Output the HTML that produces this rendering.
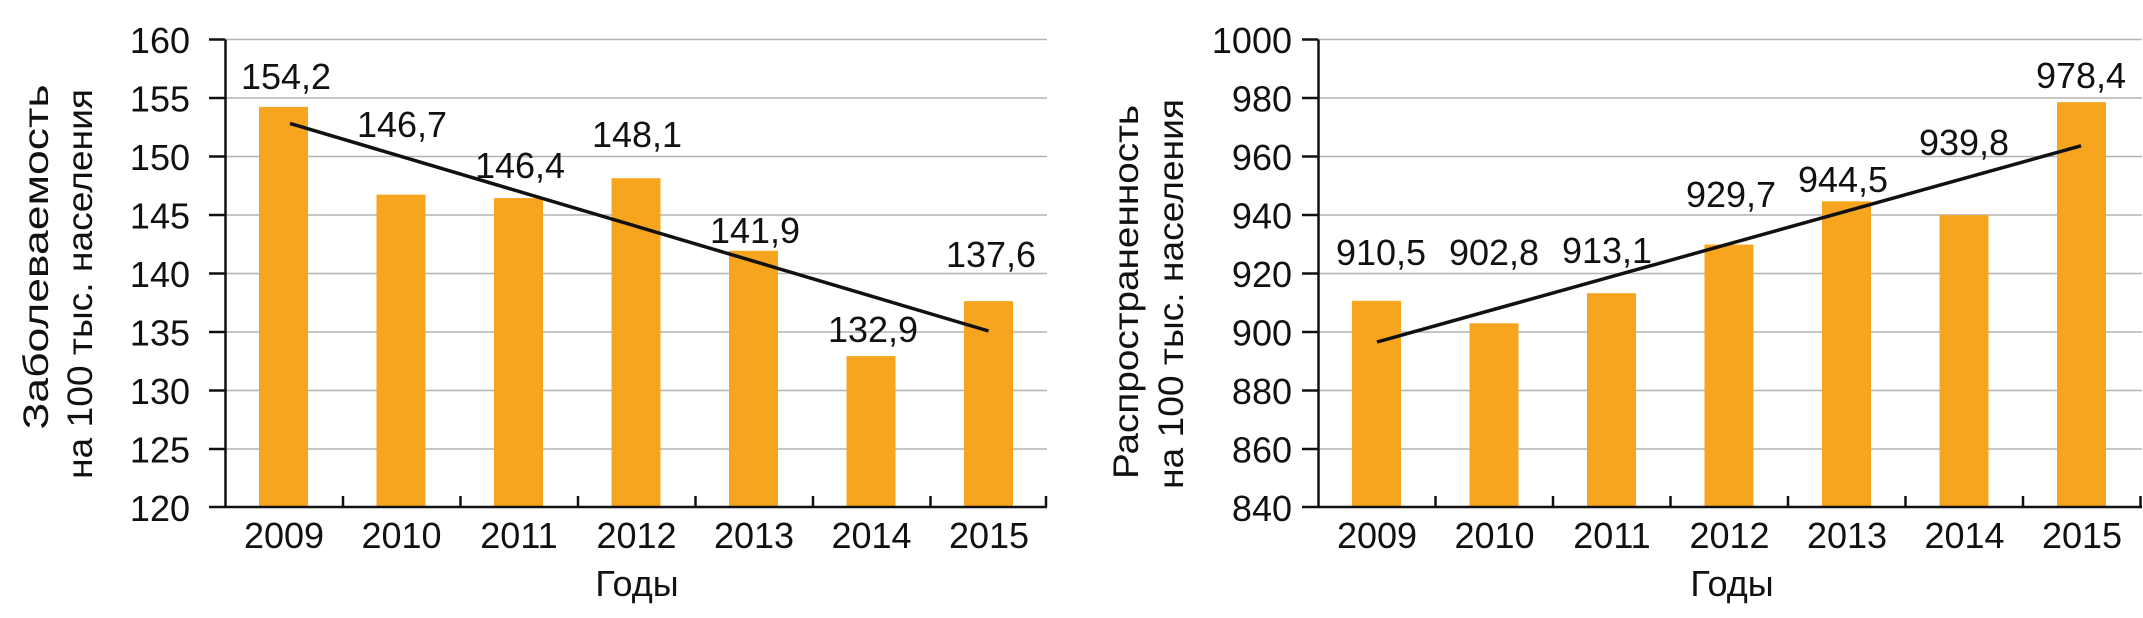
<!DOCTYPE html>
<html><head><meta charset="utf-8"><style>
html,body{margin:0;padding:0;background:#fff;}
svg{display:block;}
text{font-family:"Liberation Sans",sans-serif;fill:#111;}
</style></head><body>
<svg width="2143" height="618" viewBox="0 0 2143 618" xmlns="http://www.w3.org/2000/svg">
<!-- LEFT CHART -->
<g stroke="#b3b3b3" stroke-width="1.5">
<line x1="225" y1="39.5" x2="1047" y2="39.5"/>
<line x1="225" y1="98" x2="1047" y2="98"/>
<line x1="225" y1="156.5" x2="1047" y2="156.5"/>
<line x1="225" y1="215" x2="1047" y2="215"/>
<line x1="225" y1="273.5" x2="1047" y2="273.5"/>
<line x1="225" y1="332" x2="1047" y2="332"/>
<line x1="225" y1="390.5" x2="1047" y2="390.5"/>
<line x1="225" y1="449" x2="1047" y2="449"/>
</g>
<g fill="#F7A51E">
<rect x="259" y="106.9" width="49" height="400.1"/>
<rect x="376.5" y="194.6" width="49" height="312.4"/>
<rect x="494" y="198.1" width="49" height="308.9"/>
<rect x="611.5" y="178.2" width="49" height="328.8"/>
<rect x="729" y="250.8" width="49" height="256.2"/>
<rect x="846.5" y="356.1" width="49" height="150.9"/>
<rect x="964" y="301.1" width="49" height="205.9"/>
</g>
<g stroke="#111" stroke-width="2.5" fill="none">
<line x1="225.5" y1="39.5" x2="225.5" y2="507"/>
<line x1="209" y1="507" x2="1047" y2="507"/>
<line x1="209" y1="39.5" x2="225" y2="39.5"/>
<line x1="209" y1="98" x2="225" y2="98"/>
<line x1="209" y1="156.5" x2="225" y2="156.5"/>
<line x1="209" y1="215" x2="225" y2="215"/>
<line x1="209" y1="273.5" x2="225" y2="273.5"/>
<line x1="209" y1="332" x2="225" y2="332"/>
<line x1="209" y1="390.5" x2="225" y2="390.5"/>
<line x1="209" y1="449" x2="225" y2="449"/>
<line x1="343" y1="496" x2="343" y2="507"/>
<line x1="460.5" y1="496" x2="460.5" y2="507"/>
<line x1="578" y1="496" x2="578" y2="507"/>
<line x1="695.5" y1="496" x2="695.5" y2="507"/>
<line x1="813" y1="496" x2="813" y2="507"/>
<line x1="930.5" y1="496" x2="930.5" y2="507"/>
<line x1="1046" y1="496" x2="1046" y2="507"/>
<line x1="290" y1="123.4" x2="988.5" y2="331" stroke-width="3.5"/>
</g>
<g font-size="36" text-anchor="end">
<text x="190" y="53">160</text><text x="190" y="111.5">155</text><text x="190" y="170">150</text>
<text x="190" y="228.5">145</text><text x="190" y="287">140</text><text x="190" y="345.5">135</text>
<text x="190" y="404">130</text><text x="190" y="462.5">125</text><text x="190" y="521">120</text>
</g>
<g font-size="36" text-anchor="middle">
<text x="284" y="548">2009</text><text x="401.5" y="548">2010</text><text x="519" y="548">2011</text>
<text x="636.5" y="548">2012</text><text x="754" y="548">2013</text><text x="871.5" y="548">2014</text>
<text x="989" y="548">2015</text>
<text x="637" y="596">Годы</text>
<text x="286" y="89">154,2</text><text x="402" y="137">146,7</text><text x="520" y="178">146,4</text>
<text x="637" y="147">148,1</text><text x="755" y="243">141,9</text><text x="873" y="342">132,9</text>
<text x="991" y="267">137,6</text>
</g>
<g font-size="35" text-anchor="middle">
<text transform="translate(48,257) rotate(-90)" textLength="345" lengthAdjust="spacingAndGlyphs">Заболеваемость</text>
<text transform="translate(92,284) rotate(-90)" textLength="390" lengthAdjust="spacingAndGlyphs">на 100 тыс. населения</text>
</g>

<!-- RIGHT CHART -->
<g stroke="#b3b3b3" stroke-width="1.5">
<line x1="1318" y1="39.5" x2="2142" y2="39.5"/>
<line x1="1318" y1="98" x2="2142" y2="98"/>
<line x1="1318" y1="156.5" x2="2142" y2="156.5"/>
<line x1="1318" y1="215" x2="2142" y2="215"/>
<line x1="1318" y1="273.5" x2="2142" y2="273.5"/>
<line x1="1318" y1="332" x2="2142" y2="332"/>
<line x1="1318" y1="390.5" x2="2142" y2="390.5"/>
<line x1="1318" y1="449" x2="2142" y2="449"/>
</g>
<g fill="#F7A51E">
<rect x="1352" y="300.8" width="49" height="206.2"/>
<rect x="1469.5" y="323.3" width="49" height="183.7"/>
<rect x="1587" y="293.2" width="49" height="213.8"/>
<rect x="1704.5" y="244.6" width="49" height="262.4"/>
<rect x="1822" y="201.3" width="49" height="305.7"/>
<rect x="1939.5" y="215.1" width="49" height="291.9"/>
<rect x="2057" y="102.2" width="49" height="404.8"/>
</g>
<g stroke="#111" stroke-width="2.5" fill="none">
<line x1="1318.5" y1="39.5" x2="1318.5" y2="507"/>
<line x1="1302" y1="507" x2="2142" y2="507"/>
<line x1="1302" y1="39.5" x2="1318" y2="39.5"/>
<line x1="1302" y1="98" x2="1318" y2="98"/>
<line x1="1302" y1="156.5" x2="1318" y2="156.5"/>
<line x1="1302" y1="215" x2="1318" y2="215"/>
<line x1="1302" y1="273.5" x2="1318" y2="273.5"/>
<line x1="1302" y1="332" x2="1318" y2="332"/>
<line x1="1302" y1="390.5" x2="1318" y2="390.5"/>
<line x1="1302" y1="449" x2="1318" y2="449"/>
<line x1="1435.5" y1="496" x2="1435.5" y2="507"/>
<line x1="1553" y1="496" x2="1553" y2="507"/>
<line x1="1670.5" y1="496" x2="1670.5" y2="507"/>
<line x1="1788" y1="496" x2="1788" y2="507"/>
<line x1="1905.5" y1="496" x2="1905.5" y2="507"/>
<line x1="2023" y1="496" x2="2023" y2="507"/>
<line x1="2140.5" y1="496" x2="2140.5" y2="507"/>
<line x1="1377" y1="342" x2="2081" y2="145.8" stroke-width="3.5"/>
</g>
<g font-size="36" text-anchor="end">
<text x="1292" y="53">1000</text><text x="1292" y="111.5">980</text><text x="1292" y="170">960</text>
<text x="1292" y="228.5">940</text><text x="1292" y="287">920</text><text x="1292" y="345.5">900</text>
<text x="1292" y="404">880</text><text x="1292" y="462.5">860</text><text x="1292" y="521">840</text>
</g>
<g font-size="36" text-anchor="middle">
<text x="1377" y="548">2009</text><text x="1494.5" y="548">2010</text><text x="1612" y="548">2011</text>
<text x="1729.5" y="548">2012</text><text x="1847" y="548">2013</text><text x="1964.5" y="548">2014</text>
<text x="2082" y="548">2015</text>
<text x="1732" y="596">Годы</text>
<text x="1381" y="265">910,5</text><text x="1494" y="265">902,8</text><text x="1607" y="263">913,1</text>
<text x="1731" y="207">929,7</text><text x="1843" y="192">944,5</text><text x="1964" y="155">939,8</text>
<text x="2081" y="88">978,4</text>
</g>
<g font-size="35" text-anchor="middle">
<text transform="translate(1138,292) rotate(-90)" textLength="374" lengthAdjust="spacingAndGlyphs">Распространенность</text>
<text transform="translate(1183,294) rotate(-90)" textLength="390" lengthAdjust="spacingAndGlyphs">на 100 тыс. населения</text>
</g>
</svg>
</body></html>
